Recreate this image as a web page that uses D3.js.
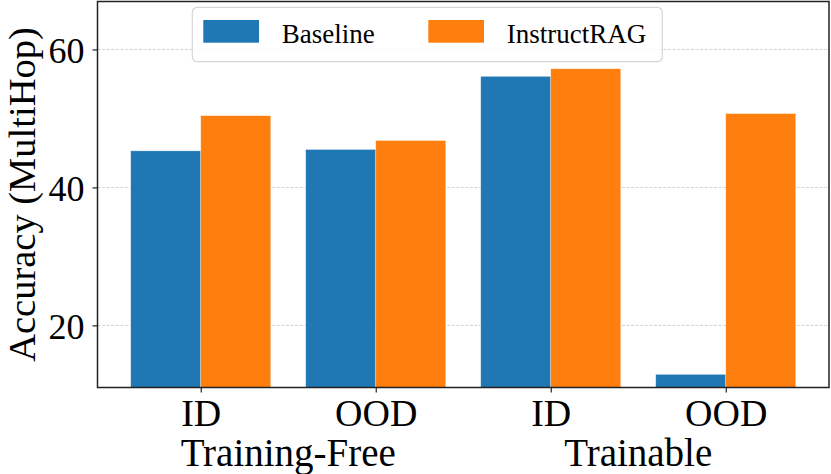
<!DOCTYPE html>
<html>
<head>
<meta charset="utf-8">
<script src="https://cdn.jsdelivr.net/npm/d3@7"></script>
<style>
  body { margin: 0; background: #fff; }
  text { font-family: "Liberation Serif", "DejaVu Serif", serif; fill: #000; }
</style>
</head>
<body>
<div id="d3-container"></div>
<script>
// values
var categories = ["ID", "OOD", "ID", "OOD"];
var groups = ["Training-Free", "Trainable"];
var seriesNames = ["Baseline", "InstructRAG"];
var baseline = [45.3, 45.5, 56.1, 12.9];
var instructrag = [50.4, 46.8, 57.2, 50.7];
var yTicks = [20, 40, 60];

var colors = ["#1f77b4", "#ff7f0e"];
var width = 831;
var height = 474;

// plot box (not "top": that one belongs to window)
var plotL = 97.5, plotR = 829, plotT = 1.5, plotB = 387.5;
var barW = 0.4;

var svg = d3.select("#d3-container").append("svg")
  .attr("width", width)
  .attr("height", height);

var x = d3.scaleLinear()
  .domain([-0.59, 3.59])
  .range([plotL, plotR]);

var y = d3.scaleLinear()
  .domain([11, 66.95])
  .range([plotB, plotT]);

// grid lines first, behind the bars
svg.append("g")
  .selectAll("line")
  .data(yTicks)
  .join("line")
    .attr("x1", plotL)
    .attr("x2", plotR)
    .attr("y1", function(d) { return y(d); })
    .attr("y2", function(d) { return y(d); })
    .attr("stroke", "#c8c8c8")
    .attr("stroke-width", 0.8)
    .attr("stroke-dasharray", "3,1.6");

var series = [baseline, instructrag];

series.forEach(function(vals, s) {
  svg.append("g")
    .selectAll("rect")
    .data(vals)
    .join("rect")
      .attr("x", function(d, i) { return x(i - barW + s * barW); })
      .attr("width", x(barW) - x(0))
      .attr("y", function(d) { return y(d); })
      .attr("height", function(d) { return y(11) - y(d); })
      .attr("fill", colors[s])
      .attr("stroke", "#fff")
      .attr("stroke-opacity", 0.5)
      .attr("stroke-width", 0.6);
});

// axes
var yAxis = d3.axisLeft(y)
  .tickValues(yTicks)
  .tickSize(5)
  .tickPadding(8);

var gy = svg.append("g")
  .attr("transform", "translate(" + plotL + ",0)")
  .call(yAxis);
gy.select(".domain").remove();
gy.selectAll(".tick line").attr("stroke", "#222").attr("stroke-width", 1.2);
gy.selectAll(".tick text")
  .attr("font-size", 36)
  .attr("font-family", "Liberation Serif")
  .attr("dy", "0.36em")
  .attr("fill", "#000");

var xAxis = d3.axisBottom(x)
  .tickValues(d3.range(categories.length))
  .tickFormat(function(i) { return categories[i]; })
  .tickSize(5)
  .tickPadding(10);

var gx = svg.append("g")
  .attr("transform", "translate(0," + plotB + ")")
  .call(xAxis);
gx.select(".domain").remove();
gx.selectAll(".tick line").attr("stroke", "#222").attr("stroke-width", 1.2);
gx.selectAll(".tick text")
  .attr("font-size", 38)
  .attr("font-family", "Liberation Serif")
  .attr("dy", null)
  .attr("y", 38)
  .attr("fill", "#000");

// group labels under the pairs of ticks
svg.append("g")
  .selectAll("text")
  .data(groups)
  .join("text")
    .attr("x", function(d, g) { return x(g * 2 + 0.5); })
    .attr("y", 465.5)
    .attr("text-anchor", "middle")
    .attr("font-size", 39)
    .text(function(d) { return d; });

// spines
svg.append("rect")
  .attr("x", plotL)
  .attr("y", plotT)
  .attr("width", plotR - plotL)
  .attr("height", plotB - plotT)
  .attr("fill", "none")
  .attr("stroke", "#222")
  .attr("stroke-width", 1.5);

// y label
svg.append("text")
  .attr("transform", "translate(34.5," + ((plotT + plotB) / 2) + ") rotate(-90)")
  .attr("text-anchor", "middle")
  .attr("font-size", 38.5)
  .text("Accuracy (MultiHop)");

// legend
var legend = svg.append("g");

legend.append("rect")
  .attr("x", 192.3)
  .attr("y", 7.3)
  .attr("width", 470)
  .attr("height", 54.4)
  .attr("rx", 5)
  .attr("fill", "#fff")
  .attr("fill-opacity", 0.8)
  .attr("stroke", "#d6d6d6")
  .attr("stroke-width", 1.2);

var legX = [203.3, 428.3];

legend.selectAll("g.item")
  .data(seriesNames)
  .join("g")
    .attr("class", "item")
    .each(function(d, s) {
      var item = d3.select(this);
      item.append("rect")
        .attr("x", legX[s])
        .attr("y", 20)
        .attr("width", 55.7)
        .attr("height", 22.7)
        .attr("fill", colors[s]);
      item.append("text")
        .attr("x", legX[s] + 78.4)
        .attr("y", 42.5)
        .attr("font-size", 27)
        .text(d);
    });
</script>
</body>
</html>
